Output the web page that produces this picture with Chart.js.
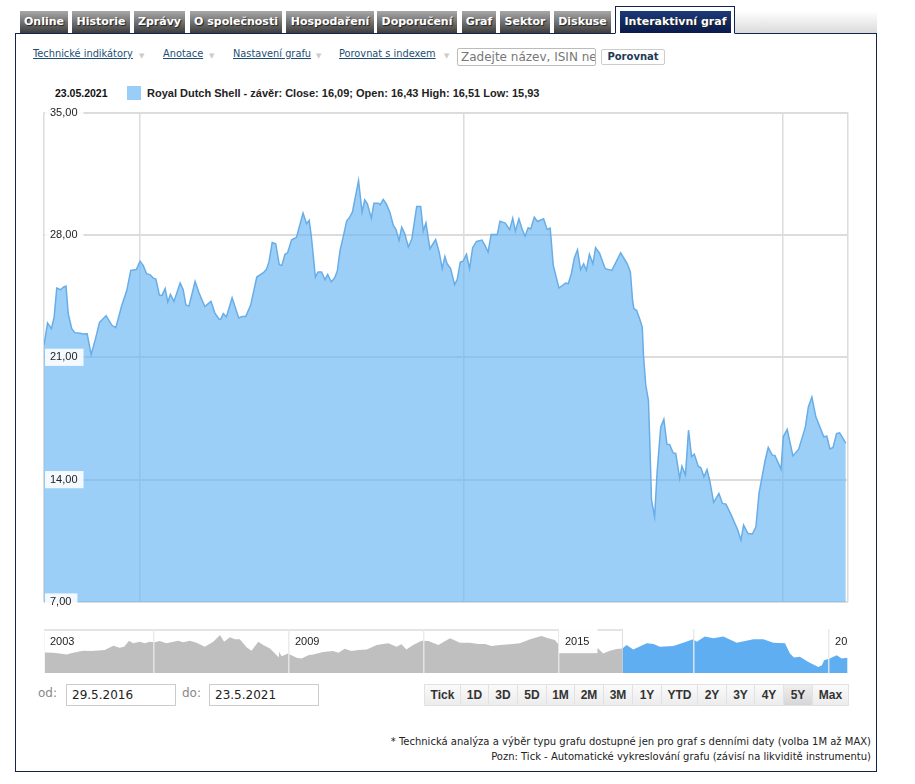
<!DOCTYPE html>
<html lang="cs">
<head>
<meta charset="utf-8">
<title>Interaktivní graf</title>
<script src="https://cdn.jsdelivr.net/npm/chart.js@4"></script>
<style>
html, body { margin: 0; padding: 0; background: #fff; overflow: hidden; }
#page { position: relative; width: 915px; height: 784px; overflow: hidden; font-family: "DejaVu Sans", sans-serif; }
#page > * { position: absolute; box-sizing: border-box; }
#strip { left: 735px; top: 11px; width: 142px; height: 23px; background: linear-gradient(#fff, #d9d9d9); }
#box { left: 15px; top: 33px; width: 862px; height: 739px; border: 1px solid #10244f; background: #fff; }
.tab { top: 11px; height: 22px; line-height: 22px; text-align: center; color: #fff; font-size: 11px; font-weight: bold; background: linear-gradient(#a8a8a8, #3d3d3d); white-space: nowrap; text-shadow: 1px 1px 1px #222; }
#tabframe { left: 615px; top: 6px; width: 120px; height: 28px; border: 1px solid #10244f; border-bottom: 1px solid #fff; background: #fff; }
#tabactive { left: 620px; width: 111px; background: linear-gradient(#1d3a78, #0a1a4a); }
.link { top: 48px; font-size: 9.8px; color: #1c4e75; text-decoration: underline; white-space: nowrap; }
.caret { top: 52px; font-size: 7px; color: #ccc; }
#search { left: 457px; top: 48px; width: 139px; height: 18px; border: 1px solid #bbb; border-radius: 2px; font-size: 12px; line-height: 16px; color: #777; padding-left: 3px; overflow: hidden; white-space: nowrap; }
#compare { left: 601px; top: 49px; width: 64px; height: 16px; border: 1px solid #ccc; border-radius: 2px; font-size: 10px; line-height: 14px; font-weight: bold; color: #1c3a55; text-align: center; }
#date { left: 55px; top: 87px; font: bold 10.5px "Liberation Sans", sans-serif; color: #111; }
#swatch { left: 127px; top: 86px; width: 14px; height: 14px; background: #99cef9; }
#legend { left: 147px; top: 87px; font: bold 11px "Liberation Sans", sans-serif; color: #222; white-space: nowrap; }
#main { left: 40px; top: 100px; }
#navframe { left: 44px; top: 629px; width: 579px; height: 44px; border-top: 2px solid #e4e4e4; border-right: 1px solid #ddd; }
#nav { left: 44px; top: 629px; }
.lab { top: 686px; font-size: 12px; color: #888; }
.field { top: 684px; width: 110px; height: 22px; border: 1px solid #ccc; font-size: 12px; line-height: 21px; padding-left: 5px; color: #222; }
.range { top: 684px; height: 22px; text-align: center; font: bold 12px/21px "Liberation Sans", sans-serif; color: #333; background: linear-gradient(#fafafa, #ececec); border: 1px solid #e2e2e2; border-left: 0; }
.range.on { background: linear-gradient(#efefef, #d6d6d6); }
.note { right: 44px; font-size: 10px; color: #222; white-space: nowrap; }
</style>
</head>
<body>
<div id="page">
  <div id="strip"></div>
  <div id="box"></div>
  <div id="tabframe"></div>
  <div class="tab" style="left:20px;width:48px">Online</div>
  <div class="tab" style="left:72px;width:58px">Historie</div>
  <div class="tab" style="left:134px;width:51px">Zprávy</div>
  <div class="tab" style="left:190px;width:92px">O společnosti</div>
  <div class="tab" style="left:286px;width:88px">Hospodaření</div>
  <div class="tab" style="left:377px;width:80px">Doporučení</div>
  <div class="tab" style="left:462px;width:34px">Graf</div>
  <div class="tab" style="left:500px;width:50px">Sektor</div>
  <div class="tab" style="left:554px;width:57px">Diskuse</div>
  <div class="tab" id="tabactive">Interaktivní graf</div>

  <div class="link" style="left:33px">Technické indikátory</div><div class="caret" style="left:139px">▼</div>
  <div class="link" style="left:163px">Anotace</div><div class="caret" style="left:209px">▼</div>
  <div class="link" style="left:233px">Nastavení grafu</div><div class="caret" style="left:316px">▼</div>
  <div class="link" style="left:339px">Porovnat s indexem</div><div class="caret" style="left:444px">▼</div>
  <div id="search">Zadejte název, ISIN neb</div>
  <div id="compare">Porovnat</div>

  <div id="date">23.05.2021</div>
  <div id="swatch"></div>
  <div id="legend">Royal Dutch Shell - závěr: Close: 16,09; Open: 16,43 High: 16,51 Low: 15,93</div>

  <canvas id="main" width="812" height="515"></canvas>
  <div id="navframe"></div>
  <canvas id="nav" width="804" height="44"></canvas>

  <div class="lab" style="left:38px">od:</div>
  <div class="field" style="left:66px">29.5.2016</div>
  <div class="lab" style="left:182px">do:</div>
  <div class="field" style="left:209px">23.5.2021</div>
  <div id="ranges"></div>

  <div class="note" style="top:736px">* Technická analýza a výběr typu grafu dostupné jen pro graf s denními daty (volba 1M až MAX)</div>
  <div class="note" style="top:751px">Pozn: Tick - Automatické vykreslování grafu (závisí na likviditě instrumentu)</div>
</div>

<script>
// days since 29.5.2016 and closing price
var closeDays = [
    0, 8, 17, 23, 29, 38, 44, 50, 55, 63, 70, 82, 89, 98, 107, 117, 126, 141, 154, 163,
    176, 188, 197, 210, 218, 225, 233, 241, 248, 254, 262, 268, 275, 281, 287, 295, 309, 316, 322, 329,
    343, 352, 365, 379, 388, 397, 401, 407, 414, 427, 442, 450, 458, 469, 483, 498, 505, 511, 518, 526,
    534, 540, 547, 553, 562, 573, 588, 596, 602, 607, 616, 622, 630, 638, 644, 652, 660, 666, 672, 679,
    687, 694, 700, 714, 722, 728, 734, 743, 749, 759, 763, 770, 777, 785, 793, 799, 806, 812, 819, 827,
    835, 846, 855, 861, 867, 876, 889, 897, 904, 910, 915, 923, 932, 938, 945, 951, 959, 966, 973, 982,
    994, 1001, 1008, 1015, 1029, 1035, 1047, 1057, 1064, 1070, 1078, 1085, 1092, 1099, 1105, 1113, 1120, 1134, 1142, 1149,
    1156, 1169, 1184, 1190, 1197, 1204, 1211, 1218, 1225, 1231, 1238, 1246, 1252, 1261, 1274, 1289, 1309, 1324, 1331, 1336,
    1339, 1345, 1352, 1358, 1361, 1366, 1372, 1375, 1379, 1386, 1392, 1400, 1407, 1414, 1420, 1428, 1434, 1443, 1448, 1456,
    1463, 1470, 1476, 1485, 1491, 1498, 1505, 1511, 1520, 1532, 1540, 1548, 1560, 1575, 1582, 1588, 1598, 1608, 1616, 1623,
    1637, 1644, 1653, 1659, 1673, 1678, 1687, 1700, 1713, 1728, 1735, 1743, 1752, 1770, 1777, 1784, 1791, 1799, 1806, 1820
];
var closeValues = [
    21.69, 22.96, 22.64, 23.31, 24.96, 24.87, 25.02, 25.08, 23.50, 22.64, 22.41, 22.37, 22.33, 22.35, 21.15, 22.07, 23.00, 23.38, 22.83, 22.70,
    23.92, 24.83, 25.97, 26.03, 26.50, 26.26, 25.78, 25.72, 25.53, 25.48, 24.56, 24.54, 24.94, 24.16, 24.60, 24.20, 25.25, 24.87, 23.99, 23.93,
    25.34, 24.68, 23.90, 24.20, 23.53, 23.19, 23.17, 23.50, 23.31, 24.41, 23.25, 23.34, 23.34, 23.97, 25.59, 25.84, 26.03, 26.50, 27.57, 27.50,
    26.30, 26.26, 26.89, 26.98, 27.72, 27.86, 29.25, 28.64, 28.83, 27.88, 25.59, 25.88, 25.88, 25.44, 25.74, 25.31, 25.55, 25.97, 27.11, 27.88,
    28.79, 29.02, 29.30, 31.11, 29.30, 30.01, 29.78, 28.96, 29.82, 29.82, 29.72, 30.03, 29.78, 29.30, 28.54, 28.31, 27.69, 28.45, 28.07, 27.31,
    27.78, 29.63, 29.63, 28.22, 28.68, 27.21, 27.74, 27.02, 26.07, 26.77, 26.35, 26.07, 25.15, 25.46, 26.45, 26.49, 26.89, 26.07, 27.27, 27.63,
    27.71, 27.40, 27.02, 28.03, 28.03, 28.79, 28.68, 28.30, 28.96, 28.22, 28.92, 28.35, 27.93, 28.41, 28.35, 29.02, 28.77, 28.92, 28.31, 28.39,
    26.26, 24.96, 25.25, 25.21, 25.78, 26.70, 27.15, 26.01, 26.35, 25.97, 26.89, 26.35, 27.27, 26.96, 26.07, 25.97, 26.98, 26.35, 25.88, 24.26,
    23.78, 23.69, 23.21, 22.73, 21.02, 19.40, 18.54, 16.26, 12.83, 11.88, 14.54, 17.02, 17.46, 16.03, 16.01, 15.53, 15.50, 14.07, 14.77, 14.26,
    16.83, 15.31, 15.46, 14.77, 14.68, 14.16, 14.58, 13.97, 12.70, 13.21, 12.64, 12.60, 11.97, 11.11, 10.54, 11.40, 10.92, 10.89, 11.30, 13.21,
    15.11, 15.84, 15.40, 15.38, 14.60, 16.45, 16.87, 15.36, 15.74, 16.98, 18.16, 18.73, 17.59, 16.45, 16.49, 15.76, 15.84, 16.64, 16.68, 16.09
];
var priceTicks = [7, 14, 21, 28, 35];
var dayGridTicks = [0, 217, 953, 1678, 1825];

// navigator: whole history in grey, selected 5Y in blue
var historyYears = [
    2003.58, 2003.76, 2003.91, 2004.06, 2004.21, 2004.43, 2004.61, 2004.91, 2005.10, 2005.24, 2005.34, 2005.45, 2005.54, 2005.69, 2005.80, 2005.91,
    2006.02, 2006.13, 2006.28, 2006.54, 2006.65, 2006.80, 2006.95, 2007.13, 2007.32, 2007.47, 2007.56, 2007.69, 2007.80, 2007.91, 2008.06, 2008.17,
    2008.32, 2008.43, 2008.58, 2008.69, 2008.76, 2008.78, 2008.84, 2008.98, 2009.17, 2009.28, 2009.43, 2009.54, 2009.76, 2009.98, 2010.10, 2010.24,
    2010.39, 2010.54, 2010.73, 2010.95, 2011.21, 2011.39, 2011.50, 2011.61, 2011.76, 2011.95, 2012.10, 2012.32, 2012.58, 2012.80, 2013.02, 2013.21,
    2013.36, 2013.50, 2013.69, 2013.91, 2014.13, 2014.36, 2014.61, 2014.76, 2014.91, 2014.98, 2015.17, 2015.39, 2015.61, 2015.75, 2015.87, 2015.98,
    2016.13, 2016.28, 2016.41
];
var historyValues = [
    20.06, 19.83, 19.39, 18.72, 19.83, 21.17, 20.94, 21.61, 24.50, 23.17, 23.83, 27.83, 26.06, 27.17, 26.06, 27.17,
    26.72, 27.61, 26.06, 27.83, 26.72, 27.83, 26.50, 23.83, 27.17, 31.61, 27.17, 30.06, 28.72, 28.72, 23.39, 21.17,
    27.17, 24.94, 22.72, 19.39, 17.17, 20.50, 17.61, 19.39, 16.50, 16.06, 18.28, 18.72, 20.28, 20.94, 19.83, 22.50,
    20.94, 21.61, 22.06, 24.94, 26.06, 23.83, 25.39, 22.06, 24.94, 27.83, 27.61, 24.94, 29.39, 26.50, 26.50, 25.61,
    25.61, 24.28, 24.94, 25.39, 26.06, 28.72, 30.94, 29.39, 28.28, 25.61, 28.28, 27.83, 26.06, 22.06, 22.72, 19.39,
    21.17, 22.28, 22.72
];
var selectedYears = [
    2016.41, 2016.50, 2016.65, 2016.95, 2017.10, 2017.24, 2017.54, 2017.76, 2017.98, 2018.06, 2018.24, 2018.43, 2018.65, 2018.95,
    2019.32, 2019.54, 2019.76, 2020.02, 2020.13, 2020.22, 2020.35, 2020.54, 2020.76, 2020.84, 2020.89, 2021.01, 2021.17, 2021.28, 2021.41
];
var selectedValues = [
    22.72, 24.94, 22.06, 26.06, 25.61, 23.83, 24.28, 26.50, 28.72, 27.17, 30.50, 29.39, 30.50, 26.50,
    28.72, 28.72, 26.50, 26.06, 19.39, 16.72, 17.17, 13.83, 10.50, 11.61, 14.94, 16.06, 18.28, 16.06, 16.50
];
var navTicks = [2003.56, 2006, 2009, 2012, 2015, 2018, 2021];
var navTickLabels = ['2003', '', '2009', '', '2015', '', '2021'];

var rangeNames = ['Tick', '1D', '3D', '5D', '1M', '2M', '3M', '1Y', 'YTD', '2Y', '3Y', '4Y', '5Y', 'Max'];
var rangeEdges = [424, 461, 489, 518, 547, 575, 604, 633, 662, 698, 727, 755, 784, 813, 849];

function toPoints(xs, ys) {
    return xs.map(function (x, i) { return { x: x, y: ys[i] }; });
}

function setTicks(values) {
    return function (scale) {
        scale.ticks = values.map(function (v) { return { value: v }; });
    };
}

window.onload = function () {
    rangeNames.forEach(function (name, i) {
        var b = document.createElement('div');
        b.className = 'range' + (name === '5Y' ? ' on' : '');
        b.style.position = 'absolute';
        b.style.boxSizing = 'border-box';
        b.style.left = rangeEdges[i] + 'px';
        b.style.width = (rangeEdges[i + 1] - rangeEdges[i]) + 'px';
        if (i === 0) b.style.borderLeft = '1px solid #e2e2e2';
        b.textContent = name;
        document.getElementById('ranges').appendChild(b);
    });

    new Chart(document.getElementById('main'), {
        type: 'line',
        data: {
            datasets: [{
                label: 'Royal Dutch Shell - závěr',
                data: toPoints(closeDays, closeValues),
                borderColor: '#69ade6',
                borderWidth: 1.5,
                backgroundColor: 'rgba(102,181,245,0.65)',
                fill: 'start',
                pointRadius: 0,
                tension: 0
            }]
        },
        options: {
            responsive: false,
            animation: false,
            layout: { padding: { left: 4, right: 4, top: 12, bottom: 13 } },
            plugins: { legend: { display: false }, tooltip: { enabled: false } },
            scales: {
                x: {
                    type: 'linear',
                    min: 0,
                    max: 1825,
                    afterBuildTicks: setTicks(dayGridTicks),
                    grid: { color: '#dcdcdc', lineWidth: 1.5, drawTicks: false },
                    border: { display: false },
                    ticks: { display: false }
                },
                y: {
                    min: 7,
                    max: 35,
                    afterBuildTicks: setTicks(priceTicks),
                    afterFit: function (scale) {
                        scale.width = 0;
                    },
                    grid: { color: '#dcdcdc', lineWidth: 2, drawTicks: false },
                    border: { display: false },
                    ticks: {
                        mirror: true,
                        padding: 6,
                        z: 1,
                        color: '#222',
                        font: { family: '"Liberation Sans"', size: 11 },
                        showLabelBackdrop: true,
                        backdropColor: 'rgba(255,255,255,0.88)',
                        backdropPadding: { left: 5, right: 6, top: 2, bottom: 2 },
                        callback: function (value) {
                            return value.toFixed(2).replace('.', ',');
                        }
                    }
                }
            }
        }
    });

    new Chart(document.getElementById('nav'), {
        type: 'line',
        data: {
            datasets: [{
                data: toPoints(historyYears, historyValues),
                borderWidth: 0,
                backgroundColor: '#bfbfbf',
                fill: 'start',
                pointRadius: 0
            }, {
                data: toPoints(selectedYears, selectedValues),
                borderWidth: 0,
                backgroundColor: '#5faef2',
                fill: 'start',
                pointRadius: 0
            }]
        },
        options: {
            responsive: false,
            animation: false,
            layout: { padding: 0 },
            plugins: { legend: { display: false }, tooltip: { enabled: false } },
            scales: {
                x: {
                    type: 'linear',
                    position: 'top',
                    min: 2003.56,
                    max: 2021.42,
                    afterBuildTicks: setTicks(navTicks),
                    afterFit: function (scale) {
                        scale.height = 0;
                        scale.paddingLeft = 0;
                        scale.paddingRight = 0;
                    },
                    grid: { color: 'rgba(232,232,232,0.9)', lineWidth: 1.5, drawTicks: false, z: 1 },
                    border: { display: false },
                    ticks: {
                        z: 2,
                        mirror: true,
                        autoSkip: false,
                        maxRotation: 0,
                        align: 'start',
                        labelOffset: 6,
                        padding: 6,
                        color: '#222',
                        font: { family: '"Liberation Sans"', size: 11 },
                        showLabelBackdrop: function (ctx) {
                            return ctx.index === 4;
                        },
                        backdropColor: 'rgba(255,255,255,0.95)',
                        backdropPadding: { left: 6, right: 8, top: 6, bottom: 5 },
                        callback: function (value, index) {
                            return navTickLabels[index];
                        }
                    }
                },
                y: {
                    display: false,
                    min: 6.5,
                    max: 35.5
                }
            }
        }
    });
};
</script>
</body>
</html>
